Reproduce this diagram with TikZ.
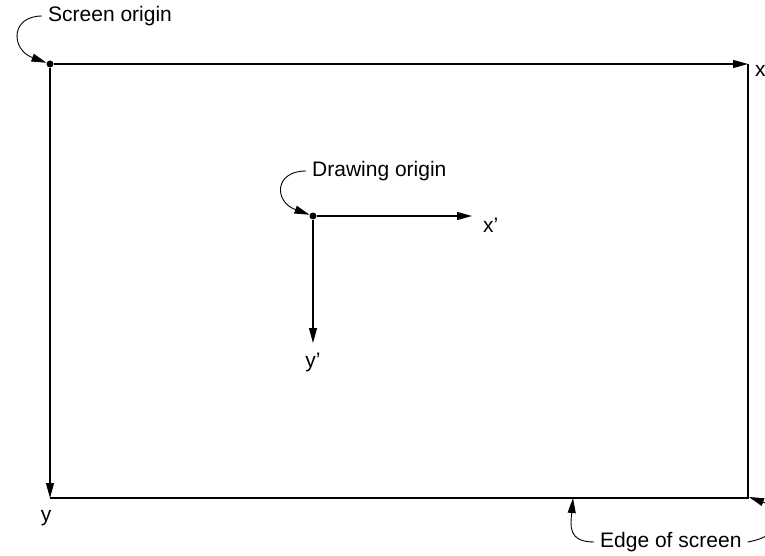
\documentclass[tikz,border=0pt]{standalone}
\usepackage{fontspec}
\setmainfont{Liberation Sans}
\usetikzlibrary{arrows.meta,positioning}
\tikzset{>={Triangle[length=15pt,width=8pt]}}

\begin{document}
\begin{tikzpicture}[
    x=1pt, y=1pt,
    axis/.style={line width=1.1pt, ->},
    edge/.style={line width=1.1pt},
    pointer/.style={line width=0.9pt, ->},
    origin/.style={circle, fill, inner sep=0pt, minimum size=7pt},
    lbl/.style={inner sep=3pt, font=\fontsize{21}{24}\selectfont},
    callout/.style={inner sep=6pt, font=\fontsize{21}{24}\selectfont},
    every node/.style={font=\fontsize{21}{24}\selectfont}
  ]
    \useasboundingbox (0,0) rectangle (765,555);
    % screen frame
    \node[origin] (sorg) at (50,491) {};
    \coordinate (tr) at (748,491);
    \coordinate (bl) at (50,57);
    \coordinate (br) at (748,57);
    \draw[axis] (sorg) -- (tr);
    \draw[axis] (sorg) -- (bl);
    \draw[edge] (tr) -- (br) -- (bl);
    \node[lbl, anchor=west] (xlbl) at (752,484) {x};
    \node[lbl, anchor=north] (ylbl) at (46,48) {y};
    % drawing axes
    \node[origin] (dorg) at (313,339) {};
    \coordinate (xend) at (472,339);
    \coordinate (yend) at (313,212);
    \draw[axis] (dorg) -- (xend);
    \draw[axis] (dorg) -- (yend);
    \node[lbl, anchor=north west] (xplbl) at (480,340) {x'};
    \node[lbl, anchor=north] (yplbl) at (313,205) {y'};
    % callouts
    \node[callout, anchor=west] (sorglbl) at (42,539) {Screen origin};
    \draw[pointer] (sorglbl.west) to[out=180, in=160, out distance=32pt, in distance=38pt] (sorg);
    \node[callout, anchor=west] (dorglbl) at (306,384) {Drawing origin};
    \draw[pointer] (dorglbl.west) to[out=180, in=160, out distance=32pt, in distance=38pt] (dorg);
    \node[callout, anchor=west] (edgelbl) at (594,13) {Edge of screen};
    \coordinate (bedge) at (573,57);
    \coordinate (cedge) at (749,58);
    \draw[pointer] (edgelbl.west) to[out=180, in=-95, looseness=1.4] (bedge);
    \draw[pointer] (edgelbl.east) to[out=10, in=-20, looseness=2.2] (cedge);
  \end{tikzpicture}
\end{document}
